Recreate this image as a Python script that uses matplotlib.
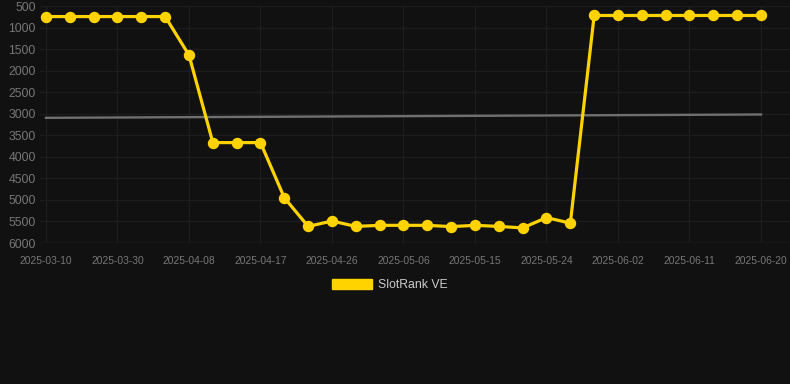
import numpy as np
import matplotlib
matplotlib.use("Agg")
import matplotlib.pyplot as plt
from matplotlib.patches import Patch

plt.rcParams['font.family'] = ['Liberation Sans', 'DejaVu Sans']

series_name = "SlotRank VE"
rank_values = [745, 745, 745, 745, 745, 745, 1640, 3670, 3670, 3670,
               4950, 5615, 5490, 5615, 5590, 5590, 5590, 5620, 5590, 5615,
               5650, 5410, 5540, 720, 720, 720, 720, 720, 720, 720, 720]
tick_labels = ["2025-03-10", "2025-03-30", "2025-04-08", "2025-04-17",
               "2025-04-26", "2025-05-06", "2025-05-15", "2025-05-24",
               "2025-06-02", "2025-06-11", "2025-06-20"]
y_ticks = [500, 1000, 1500, 2000, 2500, 3000, 3500, 4000, 4500, 5000, 5500, 6000]

BG = '#111111'
GOLD = '#FFD300'
GRID = '#1d1d1d'
TXT = '#777777'

W, H = 790, 384
fig = plt.figure(figsize=(W / 100, H / 100), dpi=100, facecolor=BG)
ax = fig.add_axes([40 / W, 1 - 243 / H, 750 / W, 237 / H], facecolor=BG)

x = np.arange(len(rank_values))
y = np.array(rank_values, dtype=float)

# trend line (linear fit)
coef = np.polyfit(x, y, 1)
ax.plot(x[[0, -1]], np.polyval(coef, x[[0, -1]]), color='#707070', lw=1.7, zorder=2)

ax.plot(x, y, color=GOLD, lw=2.3, marker='o', markersize=7.2,
        markerfacecolor=GOLD, markeredgecolor=GOLD, zorder=3)

px_per = (761 - 46) / 30
ax.set_xlim(-6 / px_per, 30 + 29 / px_per)
ax.set_ylim(6000, 500)
ax.set_yticks(y_ticks)
ax.set_yticklabels([str(v) for v in y_ticks])
tick_pos = np.arange(0, len(rank_values), 3)
ax.set_xticks(tick_pos)
ax.set_xticklabels(tick_labels)

ax.grid(True, color=GRID, lw=0.9)
ax.set_axisbelow(True)
for s in ax.spines.values():
    s.set_visible(False)
ax.axhline(6000, color='#282828', lw=1.0, zorder=1)

ax.tick_params(axis='y', length=0, pad=3, labelsize=8.8, labelcolor=TXT)
ax.tick_params(axis='x', length=0, pad=9, labelsize=7.4, labelcolor=TXT)

handle = Patch(facecolor=GOLD, edgecolor=GOLD)
leg = fig.legend([handle], [series_name], loc='center', bbox_to_anchor=(390 / W, 1 - 285 / H),
                 frameon=False, fontsize=8.8, handlelength=3.3, handleheight=0.95,
                 handletextpad=0.5, labelcolor='#cccccc')

fig.savefig('out.png', dpi=100, facecolor=BG)
